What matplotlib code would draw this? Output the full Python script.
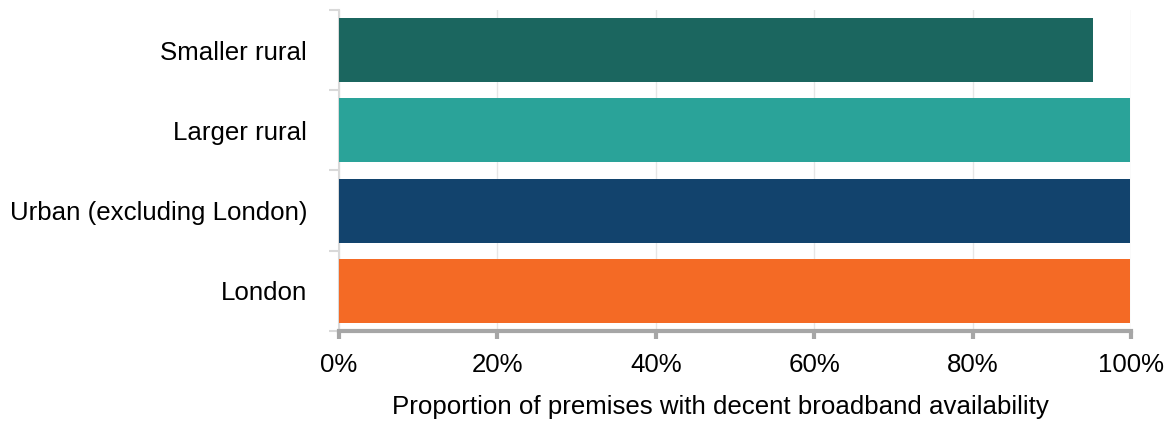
import matplotlib
matplotlib.use('Agg')
import matplotlib.pyplot as plt
import numpy as np

plt.rcParams['font.family'] = ['Liberation Sans', 'DejaVu Sans']

# données
categories = ['Smaller rural', 'Larger rural', 'Urban (excluding London)', 'London']
values = [95.2, 99.9, 99.9, 99.9]
colors = ['#1b665f', '#2aa399', '#12436d', '#f46a25']
xticks = [0, 20, 40, 60, 80, 100]

fig = plt.figure(figsize=(11.73, 4.23), dpi=100)
ax = fig.add_axes([339 / 1173, 1 - 331 / 423, (1131 - 339) / 1173, (331 - 10) / 423])

y = np.arange(len(categories))
ax.barh(y, values, height=0.8, color=colors, zorder=3)
ax.set_ylim(len(categories) - 0.5, -0.5)
ax.set_xlim(0, 100)

fs = 18.6
ax.set_xticks(xticks)
ax.set_xticklabels([f'{t}%' for t in xticks], fontsize=fs)
ax.set_yticks(y)
ax.set_yticklabels(categories, fontsize=fs)
ax.tick_params(axis='y', length=0, pad=23)
ax.set_yticks(np.arange(len(categories) + 1) - 0.5, minor=True)
ax.tick_params(axis='y', which='minor', length=7, color='#d9d9d9', width=1.5)
ax.tick_params(axis='x', length=6, color='#a6a6a6', width=3, pad=10)

ax.grid(axis='x', color='#e6e6e6', linewidth=1, zorder=0)
for s in ['top', 'right']:
    ax.spines[s].set_visible(False)
ax.spines['left'].set_color('#d9d9d9')
ax.spines['left'].set_linewidth(1.5)
ax.spines['bottom'].set_color('#a6a6a6')
ax.spines['bottom'].set_linewidth(3)

ax.set_xlabel('Proportion of premises with decent broadband availability', fontsize=fs, labelpad=15)
ax.xaxis.set_label_coords(0.4815, -0.2)
ax.xaxis.label.set_verticalalignment('top')

fig.savefig('out.png', dpi=100)
